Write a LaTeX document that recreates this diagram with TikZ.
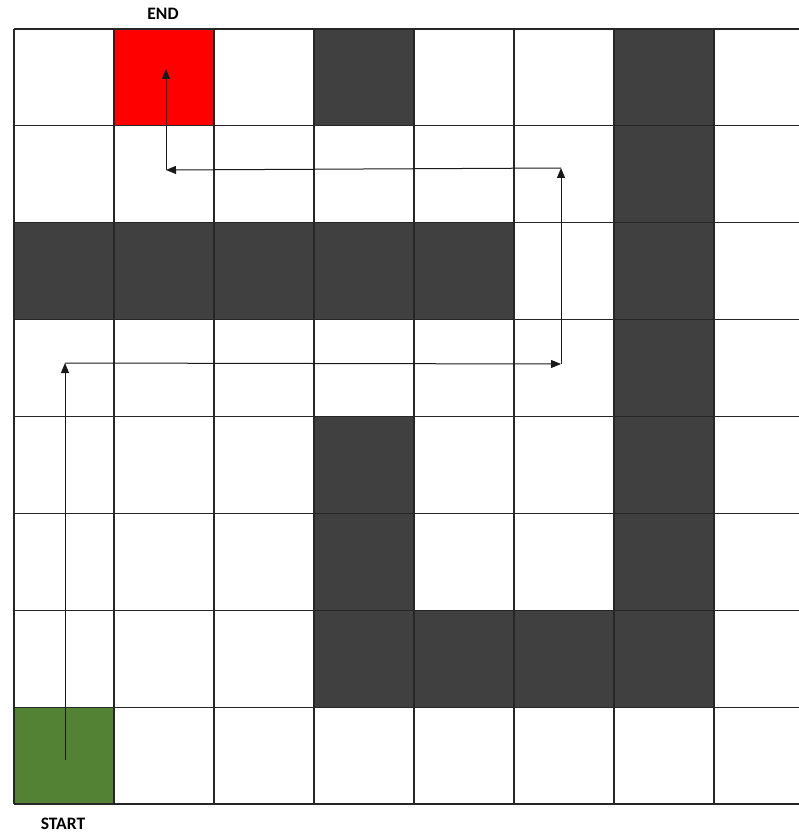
\documentclass[tikz,border=0pt]{standalone}
\usepackage{fontspec}
\setmainfont{Carlito}
\usetikzlibrary{arrows.meta}
\definecolor{wallgray}{HTML}{404040}
\definecolor{endred}{HTML}{FF0000}
\definecolor{startgreen}{HTML}{548235}

\begin{document}
\begin{tikzpicture}[x=1pt, y=-1pt, >={Triangle[length=10pt,width=8pt]},
  gridline/.style={draw=black!85, line width=1.2pt},
  pathline/.style={->, line width=1pt, black!90},
  lbl/.style={inner sep=0pt, font=\bfseries\fontsize{17.5}{20}\selectfont}]
  \clip (0,0) rectangle (799,834);
  % coloured cells (column/row counted from top left)
  \foreach \c/\r/\col in {1/0/endred, 3/0/wallgray, 6/0/wallgray, 6/1/wallgray,
      0/2/wallgray, 1/2/wallgray, 2/2/wallgray, 3/2/wallgray, 4/2/wallgray, 6/2/wallgray,
      6/3/wallgray, 3/4/wallgray, 6/4/wallgray, 3/5/wallgray, 6/5/wallgray,
      3/6/wallgray, 4/6/wallgray, 5/6/wallgray, 6/6/wallgray, 0/7/startgreen}
    \fill[\col] ({14+100*\c},{29+96.875*\r}) rectangle +(100,96.875);
  % grid
  \foreach \i in {0,...,8}
    \draw[gridline] ({14+100*\i},29) -- ({14+100*\i},804);
  \foreach \j in {0,...,8}
    \draw[gridline] (14,{29+96.875*\j}) -- (814,{29+96.875*\j});
  % labels
  \node[lbl] (endlbl) at (163,14) {END};
  \node[lbl] (startlbl) at (63,824) {START};
  % route
  \coordinate (p0) at (65,760);
  \coordinate (p1) at (65,363);
  \coordinate (p2) at (561,364);
  \coordinate (p3) at (561,168);
  \coordinate (p4) at (166,170);
  \coordinate (p5) at (166,69);
  \draw[pathline] (p0) -- (p1);
  \draw[pathline] (p1) -- (p2);
  \draw[pathline] (p2) -- (p3);
  \draw[pathline] (p3) -- (p4);
  \draw[pathline] (p4) -- (p5);
\end{tikzpicture}
\end{document}
